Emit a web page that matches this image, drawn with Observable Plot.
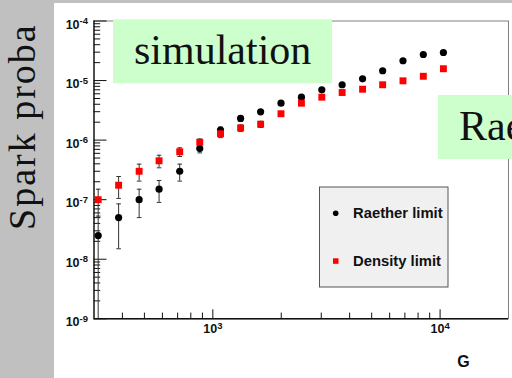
<!DOCTYPE html>
<html><head><meta charset="utf-8">
<script src="https://cdn.jsdelivr.net/npm/d3@7"></script>
<script src="https://cdn.jsdelivr.net/npm/@observablehq/plot@0.6"></script>
<style>
html,body{margin:0;padding:0;background:#fff;overflow:hidden;width:512px;height:378px}
#stage{position:relative;width:512px;height:378px;overflow:hidden;background:#fff}
#stage > svg, #stage > div{position:absolute;left:0;top:0}
</style></head><body>
<div id="stage"></div>
<script>
// ---- data ----
const G = [313, 385, 474, 580, 715, 876, 1081, 1325, 1623, 1995, 2454, 3017, 3707, 4560, 5588, 6867, 8438, 10342];
const raether = [2.5e-8, 5.0e-8, 1.0e-7, 1.5e-7, 3.0e-7, 7.2e-7, 1.48e-6, 2.31e-6, 2.99e-6, 4.17e-6, 5.26e-6, 7.0e-6, 8.5e-6, 1.07e-5, 1.46e-5, 2.15e-5, 2.74e-5, 2.96e-5];
const raetherErr = [2.8e-8, 3.5e-8, 5.0e-8, 6.0e-8, 9.5e-8, 1.1e-7, 1.8e-7, 2.2e-7, 2.5e-7, 3.0e-7, 3.4e-7, 4.0e-7, 4.4e-7, 5.0e-7, 5.8e-7, 7.0e-7, 8.0e-7, 8.5e-7];
const density = [1.0e-7, 1.75e-7, 3.0e-7, 4.5e-7, 6.37e-7, 9.2e-7, 1.28e-6, 1.6e-6, 1.85e-6, 2.77e-6, 4.17e-6, 5.26e-6, 6.3e-6, 7.16e-6, 8.5e-6, 9.9e-6, 1.18e-5, 1.58e-5];
const densityErr = [5.0e-8, 7.0e-8, 9.5e-8, 1.07e-7, 1.06e-7, 1.25e-7, 1.8e-7, 2.0e-7, 2.2e-7, 2.6e-7, 3.2e-7, 3.6e-7, 3.9e-7, 4.2e-7, 4.6e-7, 5.0e-7, 5.4e-7, 6.2e-7];
const seriesNames = ["Raether limit", "Density limit"];
const xDomain = [300, 20000];
const yDomain = [1e-9, 1e-4];
const xMajor = [1000, 10000];
const xMinor = [400, 500, 600, 700, 800, 900, 2000, 3000, 4000, 5000, 6000, 7000, 8000, 9000];
const yMajor = [1e-9, 1e-8, 1e-7, 1e-6, 1e-5, 1e-4];
const yMinor = [];
for (let e = -9; e < -4; e++) for (let m = 2; m <= 9; m++) yMinor.push(m * Math.pow(10, e));
const xTitle = "G";
const yTitle = "Spark proba";
const notes = ["simulation", "Raether limit"];

// ---- layout ----
const W = 512, H = 378, mL = 93.5, mR = 4, mT = 20.5, mB = 59.7;
const fw = W - mL - mR, fh = H - mT - mB;
const sans = "Liberation Sans, Arial, sans-serif";
const serif = "Liberation Serif, Times New Roman, serif";

const rows = G.map((g, i) => ({g, r: raether[i], re: raetherErr[i], d: density[i], de: densityErr[i]}));
const lo = (v, e) => (v - e > yDomain[0] ? v - e : yDomain[0]);
const caps = [];
rows.forEach(d => {
  caps.push({g: d.g, y: d.r + d.re});
  if (d.r - d.re > yDomain[0]) caps.push({g: d.g, y: d.r - d.re});
  caps.push({g: d.g, y: d.d + d.de});
  if (d.d - d.de > yDomain[0]) caps.push({g: d.g, y: d.d - d.de});
});
const capSym = {draw(ctx) { ctx.moveTo(-2.3, 0); ctx.lineTo(2.3, 0); }};
const expLabel = d => "10^" + Math.round(Math.log10(d));

const chart = Plot.plot({
  width: W, height: H,
  marginLeft: mL, marginRight: mR, marginTop: mT, marginBottom: mB,
  style: {background: "transparent", overflow: "visible"},
  x: {type: "log", domain: xDomain, axis: null},
  y: {type: "log", domain: yDomain, axis: null},
  marks: [
    Plot.frame({stroke: "#808080", strokeWidth: 1}),
    // ticks (inside the frame)
    Plot.tickX(xMinor, {x: d => d, insetTop: fh - 5.7, stroke: "#111"}),
    Plot.tickX(xMajor, {x: d => d, insetTop: fh - 9, stroke: "#111"}),
    Plot.tickY(yMinor, {y: d => d, insetRight: fw - 6.7, stroke: "#111"}),
    Plot.tickY(yMajor, {y: d => d, insetRight: fw - 13, stroke: "#111"}),
    Plot.ruleY([yDomain[0]], {stroke: "#111", strokeWidth: 1.5}),
    Plot.ruleX([xDomain[0]], {stroke: "#111", strokeWidth: 1.3}),
    // error bars
    Plot.ruleX(rows, {x: "g", y1: d => lo(d.r, d.re), y2: d => d.r + d.re, stroke: "#333"}),
    Plot.ruleX(rows, {x: "g", y1: d => lo(d.d, d.de), y2: d => d.d + d.de, stroke: "#333"}),
    Plot.dot(caps, {x: "g", y: "y", symbol: capSym, stroke: "#333", fill: "none", strokeWidth: 1}),
    // points
    Plot.dot(rows, {x: "g", y: "r", r: 3.6, fill: "black", stroke: "none"}),
    Plot.dot(rows, {x: "g", y: "d", symbol: "square", r: 3.9, fill: "#ff0000", stroke: "none"}),
    // tick labels
    Plot.text(xMajor, {x: d => d, frameAnchor: "bottom", dy: 14, text: expLabel, fontSize: 12.5, fontWeight: "bold", fontFamily: sans, fill: "#111"}),
    Plot.text(yMajor, {y: d => d, frameAnchor: "left", dx: -6, dy: 3.5, textAnchor: "end", text: expLabel, fontSize: 12.5, fontWeight: "bold", fontFamily: sans, fill: "#111"}),
    // x title
    Plot.text([xTitle], {frameAnchor: "bottom-right", dx: -45, dy: 48.5, textAnchor: "middle", text: d => d, fontSize: 16, fontWeight: "bold", fontFamily: sans, fill: "#111"})
  ]
});
// superscript exponents
chart.querySelectorAll("text").forEach(t => {
  const s = t.textContent;
  if (s.includes("^")) {
    const [b, e] = s.split("^");
    t.textContent = b;
    const ts = document.createElementNS("http://www.w3.org/2000/svg", "tspan");
    ts.setAttribute("dy", "-0.45em");
    ts.setAttribute("font-size", "9.5");
    ts.textContent = e;
    t.appendChild(ts);
  }
});

const stage = document.getElementById("stage");
const NS = "http://www.w3.org/2000/svg";
function svgLayer() {
  const s = document.createElementNS(NS, "svg");
  s.setAttribute("width", W); s.setAttribute("height", H);
  s.style.pointerEvents = "none";
  return s;
}
function el(parent, tag, attrs, text) {
  const e = document.createElementNS(NS, tag);
  for (const k in attrs) e.setAttribute(k, attrs[k]);
  if (text != null) e.textContent = text;
  parent.appendChild(e);
  return e;
}
// slide background (behind the chart)
const bg = svgLayer();
el(bg, "rect", {x: 0, y: 0, width: 54, height: H, fill: "#c0c0c0"});
el(bg, "rect", {x: 0, y: 0, width: W, height: 3, fill: "#c0c0c0"});
el(bg, "text", {transform: "translate(35,230) rotate(-90)", "font-family": serif, "font-size": 38, fill: "#111", "letter-spacing": "2"}, yTitle);
stage.appendChild(bg);
stage.appendChild(chart);

// overlays (legend + slide notes)
const ov = svgLayer();
el(ov, "rect", {x: 319.5, y: 187, width: 128.5, height: 100, fill: "#f0f0f0", stroke: "#555", "stroke-width": 1});
el(ov, "circle", {cx: 335.7, cy: 213.3, r: 2.8, fill: "black"});
el(ov, "rect", {x: 333, y: 258.3, width: 5.5, height: 5.5, fill: "#ff0000"});
el(ov, "text", {x: 353, y: 217.5, "font-family": sans, "font-weight": "bold", "font-size": 14.8, fill: "#111"}, seriesNames[0]);
el(ov, "text", {x: 353, y: 266, "font-family": sans, "font-weight": "bold", "font-size": 14.8, fill: "#111"}, seriesNames[1]);
el(ov, "rect", {x: 113, y: 19.3, width: 219, height: 64, fill: "#ccffcc"});
el(ov, "text", {x: 134, y: 64, "font-family": serif, "font-size": 42, fill: "#111"}, notes[0]);
el(ov, "rect", {x: 438, y: 95, width: 80, height: 64, fill: "#ccffcc"});
el(ov, "text", {x: 459, y: 140, "font-family": serif, "font-size": 42, fill: "#111"}, notes[1]);
stage.appendChild(ov);
</script>
</body></html>
